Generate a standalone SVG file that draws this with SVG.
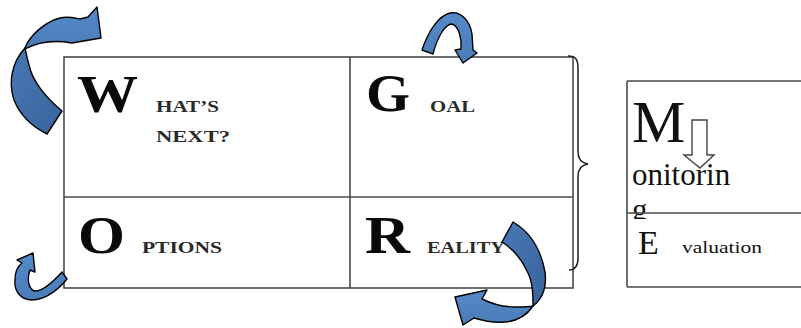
<svg xmlns="http://www.w3.org/2000/svg" width="801" height="328" viewBox="0 0 801 328">
<defs>
<linearGradient id="gL" x1="0" y1="0" x2="0" y2="1"><stop offset="0" stop-color="#5489c8"/><stop offset="1" stop-color="#4a7cb8"/></linearGradient>
<linearGradient id="gD" x1="0" y1="0" x2="1" y2="1"><stop offset="0" stop-color="#4778b4"/><stop offset="1" stop-color="#39649c"/></linearGradient>
</defs>
<style>
.grid{fill:none;stroke:#4a4a4a;stroke-width:1.6}
.big{font-family:"Liberation Serif",serif;font-weight:bold;font-size:53px;fill:#0a0a0a}
.sc{font-family:"Liberation Serif",serif;font-weight:bold;font-size:16.5px;fill:#2a2a2a}
.ser{font-family:"Liberation Serif",serif;fill:#111}
.arr{stroke:#000;stroke-width:1.4;stroke-linejoin:round}
</style>
<rect width="801" height="328" fill="#fff"/>

<g id="main-table">
<rect class="grid" x="64" y="57" width="509" height="231"/>
<line class="grid" x1="350" y1="57" x2="350" y2="288"/>
<line class="grid" x1="64" y1="197" x2="573" y2="197"/>
</g>

<g id="whats-next">
<text class="big" x="77" y="112" textLength="61" lengthAdjust="spacingAndGlyphs">W</text>
<text class="sc" x="156" y="112" textLength="63" lengthAdjust="spacingAndGlyphs">HAT’S</text>
<text class="sc" x="156" y="142" textLength="74" lengthAdjust="spacingAndGlyphs">NEXT?</text>
</g>
<g id="goal">
<text class="big" x="366" y="111" textLength="44" lengthAdjust="spacingAndGlyphs">G</text>
<text class="sc" x="430" y="112" textLength="45" lengthAdjust="spacingAndGlyphs">OAL</text>
</g>
<g id="options">
<text class="big" x="78" y="253" textLength="47" lengthAdjust="spacingAndGlyphs">O</text>
<text class="sc" x="142" y="253" textLength="80" lengthAdjust="spacingAndGlyphs">PTIONS</text>
</g>
<g id="reality">
<text class="big" x="365" y="253" textLength="45" lengthAdjust="spacingAndGlyphs">R</text>
<text class="sc" x="427" y="253" textLength="78" lengthAdjust="spacingAndGlyphs">EALITY</text>
</g>

<g id="brace">
<path d="M568,56 C576,56 578,60 578,68 L578,152 C578,160 582,163 588,164 C582,165 578,168 578,176 L578,258 C578,266 575,270 569,270" fill="none" stroke="#222" stroke-width="1.5"/>
</g>

<g id="monitoring-evaluation">
<text class="ser" x="632" y="142" font-size="60">M</text>
<text class="ser" x="632" y="185" font-size="31">onitorin</text>
<text class="ser" x="632" y="220" font-size="31">g</text>
<rect x="628" y="219" width="173" height="67" fill="#fff"/>
<line class="grid" x1="627" y1="81" x2="801" y2="81"/>
<line class="grid" x1="627" y1="287" x2="801" y2="287"/>
<line class="grid" x1="627" y1="81" x2="627" y2="287"/>
<line class="grid" x1="627" y1="213" x2="801" y2="213"/>
<path d="M692,120 L707,120 L707,155 L714,155 L700,168 L684,155 L692,155 Z" fill="#fff" stroke="#444" stroke-width="1.4"/>
<text class="ser" x="638" y="254" font-size="34" fill="#222">E</text>
<text class="ser" x="682" y="253" font-size="17" fill="#555" textLength="80" lengthAdjust="spacingAndGlyphs">valuation</text>
</g>

<g id="connectors">
<g id="arrow-top-left">
<path class="arr" fill="url(#gD)" d="M25,48 C12,62 8,82 14,100 C20,115 33,127 47,134 L62,111 C45,97 32,80 29,65 C27,58 26,53 25,48 Z"/>
<path class="arr" fill="url(#gL)" d="M25,48 C30,35 45,22 60,18 C68,16 75,18 80,19 L88,17 L97,7 L101,38 L72,43 C55,40 38,42 25,49 Z"/>
</g>
<g id="arrow-goal">
<path class="arr" fill="url(#gL)" d="M422,50 C428,32 438,16 450,13 C462,11 470,22 472,34 L473,50 L477,53 L463,63 L455,50 L461,49 C462,40 459,26 452,24 C445,24 437,38 433,54 Z"/>
</g>
<g id="arrow-options">
<path class="arr" fill="url(#gL)" d="M17,260 L33,253 L35,272 L30,270 C27,278 28,288 34,291 C42,292 52,283 62,272 L67,279 C58,290 45,300 32,300 C20,300 14,290 15,280 C15,272 18,266 22,263 Z"/>
</g>
<g id="arrow-reality">
<path class="arr" fill="url(#gD)" d="M513,222 C530,232 541,250 545,272 C547,288 542,299 533,306 C533,295 533,282 527,271 C522,260 513,249 502,242 Z"/>
<path class="arr" fill="url(#gL)" d="M533,306 C527,315 518,321 505,322 C494,323 484,321 474,318 L463,325 L455,297 L487,290 L482,299 C492,304 505,307 515,307 C523,307 529,307 533,306 Z"/>
</g>
</g>
</svg>
